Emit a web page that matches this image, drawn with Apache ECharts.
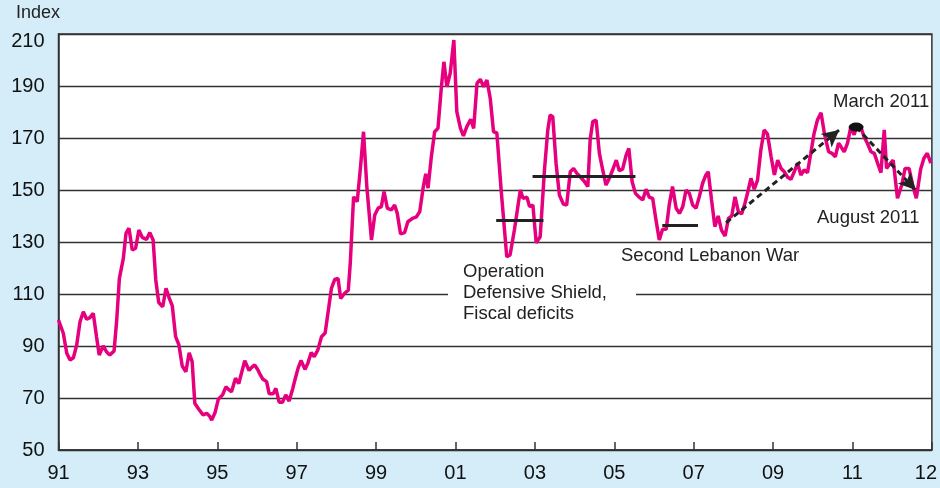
<!DOCTYPE html>
<html><head><meta charset="utf-8">
<script src="https://cdn.jsdelivr.net/npm/echarts@6/dist/echarts.min.js"></script>
<style>html,body{margin:0;padding:0;background:#d4edf9}#c{width:940px;height:488px}</style>
</head><body><div id="c"></div>
<script>
// months since Jan 1991
const months = [0,1.45,2.5,3.5,4.5,5.5,6.5,7.5,8.5,9.5,10.5,11.5,12.3,13.5,14.5,15.5,16.8,17.6,18.4,19.6,20.4,21.3,22.3,23.3,24.3,25.3,26.6,27.6,28.6,29.4,30.3,31.5,32.5,33.5,34.4,35.4,36.4,37.4,38.5,39.5,40.4,41.2,42.4,43.7,44.8,45.7,46.3,47.3,48.3,49.6,50.6,51.5,52.3,53.5,54.5,55.4,56.3,57.6,58.4,59.3,60.2,60.8,61.8,62.9,63.7,64.9,65.7,66.7,67.7,68.7,69.7,70.8,71.6,72.4,73.3,74.5,75.4,76.4,77.3,78.4,79.5,80.6,81.6,82.5,83.5,84.5,85.3,86.5,87.6,88.2,89.2,90.3,91.3,92.2,93.2,94.6,95.6,96.6,97.6,98.4,99.4,100.6,101.6,102.4,103.4,104.6,105.6,107,108.2,109.2,110.2,111,111.7,112.7,113.7,114.7,115.7,116.5,117.4,118.4,119.5,120.4,121.5,122.4,123.4,124.6,125.5,126.5,127.5,128.5,129.5,130.5,131.5,132.5,133.8,135.5,136.5,137.8,139.6,140.4,141.6,142.4,143.4,144.4,145.6,146.9,147.9,148.6,149.4,150.4,151.4,152.6,153.6,154.7,155.7,156.7,157.7,159,160,160.7,161.5,162.5,163.5,164.5,165.5,166.5,167.5,168.6,169.5,170.5,171.6,172.4,173.4,174.4,175.4,176.6,177.6,178.6,179.6,180.6,181.6,182.6,183.7,184.6,185.6,186.7,187.7,188.7,189.7,190.7,191.7,192.7,193.7,194.7,195.7,196.4,197.4,198.4,199.4,200.4,201.5,202.5,203.5,204.5,205.5,206.5,207.5,208.5,209.3,210.3,211.3,212.3,213.3,214.3,215.4,216.4,217.4,218.4,219.4,220.4,221.4,222.4,223.4,224.4,225.4,226.4,227.4,228.4,229.4,230.5,231.5,232.8,233.8,234.8,235.8,236.5,237.5,238.5,239.5,240.5,241.2,242.5,243.5,244.5,245.6,246.6,247.6,248.6,249.6,250.3,251.3,252.3,253.6,254.9,255.9,257.1,258.3,259.3,260.6,261.6,262.6,263.7];
const values = [100,94.9,87.2,84.6,85.5,90.4,99.3,103.2,100.3,100.9,102.6,93.6,86.5,90,87.8,86.5,88.1,100,116,123.7,133.3,135.3,126.9,127.6,134.6,131.8,131,133.6,130.8,115.4,106.7,105.1,112.2,108.3,105.4,93.6,90.4,82.3,80.1,87.4,84,68,65.7,63.5,64.1,63,61.5,64.3,69.5,71.2,74.3,73.2,72.4,77.6,75.6,80,84.3,80.6,81.8,82.7,81,79.4,77.2,76.3,71.6,71.6,73.7,68.4,68.4,71.2,68.8,73.6,77.6,81.4,84.4,81,83.5,87.5,85.9,88.5,93.6,95,104,112.2,115.6,116,108.3,110.3,111.5,122,147.4,145.5,159,172.4,151.3,130.8,140.4,143,143.6,149.4,143,142.3,144.2,141,133.1,133.6,137.8,139.1,139.7,141.7,150.7,156.2,150.7,162.8,172.4,173.7,189.1,199.3,189.7,194.9,207.7,180.1,173.7,170.8,174.3,177.2,173.7,191,192.6,189.7,192.3,185.3,172.4,172,150,124.3,125,134.6,150,146.8,147.2,143.6,144.2,129.7,132,157.7,173.1,178.8,178.2,160.3,148.1,144.6,144.2,157,158.3,156.4,155.1,153.2,151.3,169.2,176.3,176.9,164.1,157.7,151.9,154.5,157.7,161.5,157.4,158,163.5,166,153.2,148.7,147.4,146.2,150.3,147.2,146.8,138.5,130.8,134.9,134.9,144.2,151.3,143,141,143.6,150,148.7,144.2,143,147.4,152.6,155.8,157,146.2,135.9,140,134.6,132.3,139.1,140,147.4,141.7,140.8,144.9,150,154.5,150.3,153.8,165.4,173.1,171.5,162.8,155.8,161.5,158.3,157,154.9,154.1,157,160.3,155.8,157.7,156.7,164.1,171.8,176.9,179.7,171.8,164.7,164.1,162.8,168,166.7,164.7,168,174.3,171.2,174.3,174.3,170.5,168,164.7,164.1,160.3,156.7,173.1,158.3,160,161.5,146.8,151.9,158.3,158.3,151.3,146.8,158,162.2,164.1,160.3];
const xTickLabels = ['91','93','95','97','99','01','03','05','07','09','11','12'];
// annotation bars: [startMonth, endMonth, level]
const bars = [[132.3,146.6,138.2],[143.3,174.4,155.1],[182.5,193.3,136.4]];
// arrows: [fromMonth, fromValue, toMonth, toValue]
const arrows = [[201.8,137.4,236,173.1],[241.1,174.2,259.1,150]];
const peakPoint = [241.1,174.2];

const chart = echarts.init(document.getElementById('c'), null, {renderer:'canvas'});
const FONT = 'Liberation Sans, Arial, sans-serif';
const data = months.map((m,i)=>[m, values[i]]);
chart.setOption({
  animation:false,
  backgroundColor:'#d4edf9',
  grid:{left:58.5,right:7,top:34,bottom:38,show:true,backgroundColor:'#fff',borderColor:'#333',borderWidth:1.5},
  xAxis:{type:'value',min:0,max:264,interval:24,
    axisLine:{lineStyle:{color:'#333',width:1.5}},
    axisTick:{inside:true,length:8,lineStyle:{color:'#333',width:1.5}},
    splitLine:{show:false},
    axisLabel:{color:'#111',fontSize:20,fontFamily:FONT,margin:13,
      formatter:v=>{const s=xTickLabels[Math.round(v/24)]; return v===264?'{r|'+s+'}':s;},
      rich:{r:{fontSize:20,fontFamily:FONT,color:'#111',padding:[0,12,0,0]}}}
  },
  yAxis:{type:'value',min:50,max:210,interval:20,
    axisLine:{show:true,lineStyle:{color:'#333',width:1.5}},
    axisTick:{show:false},
    splitLine:{lineStyle:{color:'#333',width:1.3}},
    axisLabel:{color:'#111',fontSize:20,fontFamily:FONT,margin:14,
      formatter:v=>v===210?'{t|210}':String(v),
      rich:{t:{fontSize:20,fontFamily:FONT,color:'#111',padding:[14,0,0,0]}}}
  },
  graphic:[
    {type:'text',left:16,top:4,style:{text:'Index',fontSize:18,fontFamily:FONT,fill:'#222'}},
    {type:'rect',shape:{x:448,y:263,width:188,height:62},style:{fill:'#fff'},z:5},
    {type:'text',left:463,top:262,z:6,style:{text:'Operation\nDefensive Shield,\nFiscal deficits',fontSize:18.5,lineHeight:20.7,fontFamily:FONT,fill:'#222'}},
    {type:'text',left:621,top:246,z:6,style:{text:'Second Lebanon War',fontSize:18.5,fontFamily:FONT,fill:'#222'}},
    {type:'text',left:833,top:92,z:6,style:{text:'March 2011',fontSize:18.5,fontFamily:FONT,fill:'#222'}},
    {type:'text',left:817,top:208,z:6,style:{text:'August 2011',fontSize:18.5,fontFamily:FONT,fill:'#222'}}
  ],
  series:[
    {type:'line',data:data,symbol:'none',z:3,lineStyle:{color:'#e6007e',width:3.5}},
    {type:'line',data:[],z:4,markLine:{silent:true,symbol:['none','none'],label:{show:false},
      lineStyle:{color:'#222',width:3,type:'solid'},
      data:bars.map(b=>[{coord:[b[0],b[2]]},{coord:[b[1],b[2]]}])}},
    {type:'line',data:[],z:4,markLine:{silent:true,symbol:['none','arrow'],symbolSize:[13,17],label:{show:false},
      lineStyle:{color:'#222',width:3,type:[6,4]},
      data:arrows.map(a=>[{coord:[a[0],a[1]]},{coord:[a[2],a[3]]}])},
      markPoint:{silent:true,symbol:'circle',symbolSize:[15,9],itemStyle:{color:'#111'},label:{show:false},
        data:[{coord:peakPoint}]}}
  ]
});
</script></body></html>
